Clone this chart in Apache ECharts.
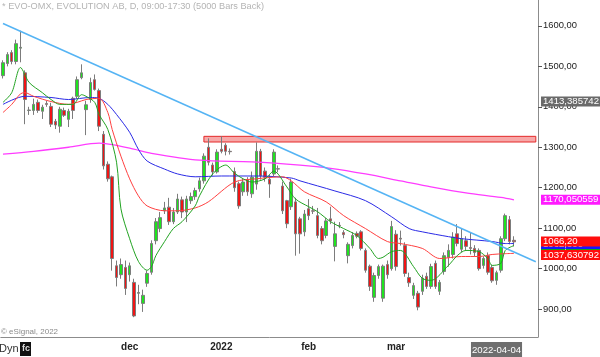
<!DOCTYPE html>
<html><head><meta charset="utf-8">
<script src="https://cdn.jsdelivr.net/npm/echarts@6/dist/echarts.min.js"></script>
<style>html,body{margin:0;padding:0;background:#fff}#c{width:600px;height:357px}</style>
</head><body><div id="c"></div>
<script>
// Daily bars (Oct 2021 – Apr 2022)
const opens  = [1477,1507,1534,1512,1545,1484,1391,1391,1411,1389,1408,1401,1364,1352,1391,1369,1421,1426,1472,1393,
                1418,1467,1440,1332,1258,1227,1007,985,1003,985,966,939,914,964,991,1069,1099,1143,1152,1116,
                1140,1170,1140,1168,1178,1197,1217,1300,1256,1239,1295,1305,1290,1240,1210,1190,1220,1185,1209,1290,
                1241,1221,1234,1246,1204,1168,1153,1165,1123,1091,1148,1143,1131,1099,1082,1123,1055,1107,1089,1032,
                1057,1087,1091,1045,1006,929,983,927,1010,1000,1085,1075,1057,978,934,939,944,981,956,1013,
                944,993,1028,1035,1086,1048,1069,1052,1050,1045,1008,1032,1003,971,996,1074,1121,1070];
const closes = [1509,1529,1512,1556,1547,1418,1392,1406,1391,1399,1406,1357,1355,1394,1379,1389,1391,1467,1484,1405,
                1460,1443,1352,1254,1222,1025,978,1010,951,1007,883,941,934,988,1062,1116,1126,1150,1116,1140,
                1172,1140,1172,1178,1193,1217,1278,1263,1239,1288,1290,1290,1289,1200,1155,1214,1190,1226,1290,1229,
                1226,1209,1288,1247,1143,1111,1214,1086,1086,1135,1131,1142,1082,1069,1118,1118,1086,1106,1084,1060,
                1082,1080,1050,996,956,983,1005,1006,985,1104,1005,1073,988,965,958,905,976,956,1005,956,
                966,1032,1045,1078,1062,1074,1055,1050,1040,1000,1025,991,970,990,1074,1131,1067,1066.2];
const lows   = [1470,1500,1505,1505,1510,1357,1380,1380,1385,1370,1400,1350,1345,1336,1375,1350,1370,1420,1468,1330,
                1410,1440,1340,1245,1215,995,956,975,935,968,880,912,893,955,985,1060,1090,1135,1108,1110,
                1135,1125,1115,1160,1170,1190,1210,1255,1230,1235,1285,1280,1282,1190,1148,1180,1180,1175,1195,1220,
                1215,1175,1228,1238,1135,1100,1145,1032,1037,1080,1120,1135,1075,1060,1075,1110,1018,1100,1075,1013,
                1050,1075,1045,990,945,918,975,918,975,995,995,1057,980,955,925,897,935,950,950,950,
                935,985,1005,1025,1055,1040,1045,1035,1030,995,1000,985,965,960,990,1068,1060,1055];
const highs  = [1515,1535,1540,1566,1588,1490,1400,1420,1418,1405,1415,1410,1370,1400,1398,1395,1425,1475,1505,1415,
                1472,1480,1445,1340,1265,1230,1020,1025,1020,1015,975,960,948,995,1070,1125,1140,1165,1175,1150,
                1185,1178,1180,1188,1200,1225,1285,1322,1262,1295,1327,1310,1297,1250,1215,1222,1226,1240,1312,1296,
                1250,1232,1295,1255,1215,1170,1222,1175,1128,1145,1172,1155,1150,1105,1125,1153,1116,1115,1095,1065,
                1090,1092,1095,1050,1010,990,1010,1010,1020,1118,1095,1094,1065,990,965,945,985,990,1012,1020,
                972,1040,1060,1090,1110,1100,1080,1090,1058,1050,1030,1040,1010,995,1080,1136,1130,1080];
const slotCount = 123;              // bar slots on the time axis (incl. empty right margin)
const tickIndex = [29, 50, 70, 90];
const tickText  = ['dec', '2022', 'feb', 'mar'];
const cursorIndex = 113, cursorText = '2022-04-04';
const yTicks = [900, 1000, 1100, 1200, 1300, 1400, 1500, 1600];

// Moving averages: [bar index, value]
const maGreen = [[0,1411],[2,1435],[4,1497],[6,1460],[9,1435],[11,1418],[13,1406],[16,1406],[18,1430],[19,1426],[21,1411],[22,1381],
  [24,1344],[26,1263],[27,1148],[29,1074],[31,1018],[33,996],[34,1005],[35,1032],[37,1067],[39,1099],[41,1116],[44,1155],[45,1180],
  [48,1234],[51,1256],[53,1236],[55,1222],[57,1214],[60,1222],[62,1241],[65,1202],[67,1172],[70,1153],[72,1141],[75,1116],[78,1099],
  [81,1082],[84,1050],[86,1025],[87,1028],[89,1042],[91,1045],[94,1005],[96,976],[98,971],[102,1008],[104,1032],[106,1045],[109,1042],
  [111,1025],[112,1008],[114,1013],[115,1045],[117,1057]];
const maRed = [[0,1386],[2,1406],[4,1432],[5,1435],[7,1426],[11,1413],[15,1406],[17,1411],[19,1418],[22,1421],[24,1386],[25,1344],
  [27,1278],[29,1222],[31,1180],[33,1155],[37,1143],[40,1143],[44,1150],[47,1165],[53,1214],[58,1222],[64,1227],[66,1217],[69,1190],
  [74,1165],[78,1131],[83,1099],[88,1067],[91,1062],[96,1050],[100,1025],[105,1030],[109,1030],[112,1035],[115,1037],[117,1037.63]];
const maBlue = [[0,1406],[5,1426],[11,1423],[15,1418],[20,1423],[22,1421],[24,1406],[26,1381],[29,1337],[31,1295],[33,1266],[37,1246],
  [40,1234],[44,1227],[50,1229],[58,1229],[66,1224],[68,1217],[76,1192],[83,1168],[89,1128],[93,1099],[96,1091],[102,1079],[105,1074],
  [112,1067],[115,1062],[117,1062]];
const maMagenta = [[0,1283],[7,1290],[15,1300],[22,1310],[29,1298],[34,1285],[45,1268],[57,1264],[68,1256],[75,1248],[83,1234],
  [91,1217],[98,1202],[106,1187],[114,1176],[117,1170.05]];

const trendLine = [[0, 1606], [122, 1017]];
const zone = {from: 46, to: 122, low: 1313, high: 1327};
// right-edge price tags: value shown, and the level where the (de-overlapped) tag sits
const priceTags = [
  {text: '1413,385742', at: 1413.39, bg: '#6a6a6a'},
  {text: '1170,050559', at: 1170.05, bg: '#ff1aff'},
  {text: '1054,600', at: 1054.6, bg: '#16a016'},
  {text: '1062,000', at: 1061.0, bg: '#1515ff'},
  {text: '1037,630792', at: 1033.7, bg: '#ff0d0d'},
  {text: '1066,20', at: 1067.0, bg: '#ff0d0d'}
];

const FONT = 'Arial, "Liberation Sans", sans-serif';
const categories = [];
for (let i = 0; i < slotCount; i++) categories.push(String(i));
const candles = opens.map((o, i) => [o, closes[i], lows[i], highs[i]]);

const tagItems = priceTags.map(t => ({
  yAxis: t.at,
  lineStyle: {color: 'rgba(0,0,0,0)', width: 0},
  label: {show: true, position: 'end', distance: 3, formatter: t.text, color: '#fff', width: 56, align: 'left',
          backgroundColor: t.bg, padding: [1, 2, 0, 2], fontSize: 9.6, fontFamily: FONT, lineHeight: 9}
}));

const chart = echarts.init(document.getElementById('c'), null, {renderer: 'canvas'});
chart.setOption({
  animation: false,
  backgroundColor: '#fff',
  grid: {left: 0, right: 62, top: 0, bottom: 18, containLabel: false},
  xAxis: {
    type: 'category', data: categories, boundaryGap: true,
    axisLine: {lineStyle: {color: '#8c8c8c', width: 1}},
    axisTick: {alignWithLabel: true, length: 3, lineStyle: {color: '#555'},
               interval: (i) => tickIndex.includes(i) || i === cursorIndex},
    axisLabel: {
      interval: 0, margin: 5, fontSize: 10, fontWeight: 'bold', color: '#222', fontFamily: FONT,
      formatter: (v, i) => {
        if (i === cursorIndex) return '{cur|' + cursorText + '}';
        const k = tickIndex.indexOf(i);
        return k >= 0 ? tickText[k] : '';
      },
      rich: {cur: {backgroundColor: '#6e6e6e', color: '#fff', fontWeight: 'normal', fontSize: 9.6,
                   padding: [3, 1, 2, 1], fontFamily: FONT}}
    },
    splitLine: {show: false}
  },
  yAxis: {
    type: 'value', position: 'right', min: 831, max: 1664, scale: true,
    axisLine: {show: true, lineStyle: {color: '#8c8c8c'}},
    axisTick: {show: true, length: 4, customValues: yTicks, lineStyle: {color: '#555'}},
    axisLabel: {customValues: yTicks, margin: 5, fontSize: 9.4, color: '#222', fontFamily: FONT,
                formatter: v => v.toFixed(2).replace('.', ',')},
    splitLine: {show: false}
  },
  series: [
    {
      type: 'candlestick', data: candles, barWidth: 3, z: 2, clip: false,
      itemStyle: {color: '#1ee41e', color0: '#f01414', borderColor: '#7c7c7c', borderColor0: '#7c7c7c', borderWidth: 1},
      markArea: {
        silent: true,
        itemStyle: {color: 'rgba(242,110,110,0.6)', borderColor: '#e42a2a', borderWidth: 1},
        data: [[{xAxis: String(zone.from), yAxis: zone.high}, {xAxis: String(zone.to), yAxis: zone.low}]]
      },
      markLine: {
        silent: true, symbol: 'none', animation: false,
        data: [
          [{coord: [String(trendLine[0][0]), trendLine[0][1]], lineStyle: {color: '#55b4f4', width: 1.5, type: 'solid'}, label: {show: false}},
           {coord: [String(trendLine[1][0]), trendLine[1][1]]}]
        ].concat(tagItems)
      }
    },
    {type: 'line', data: maMagenta, smooth: 0.3, showSymbol: false, z: 3, lineStyle: {color: '#ff3cff', width: 1.3}},
    {type: 'line', data: maBlue, smooth: 0.3, showSymbol: false, z: 3, lineStyle: {color: '#2a2ae6', width: 1}},
    {type: 'line', data: maRed, smooth: 0.3, showSymbol: false, z: 3, lineStyle: {color: '#ff4040', width: 1}},
    {type: 'line', data: maGreen, smooth: 0.3, showSymbol: false, z: 3, lineStyle: {color: '#22a322', width: 1}}
  ],
  graphic: [
    {type: 'text', left: 2, top: 2, z: 10, style: {text: '* EVO-OMX, EVOLUTION AB, D, 09:00-17:30 (5000 Bars Back)',
      fill: '#b4b4b4', font: '9.2px ' + FONT}},
    {type: 'text', left: 1, top: 328, z: 10, style: {text: '\u00a9 eSignal, 2022', fill: '#8a8a8a', font: '8px ' + FONT}},
    {type: 'text', left: -1, top: 343, z: 10, style: {text: 'Dyn', fill: '#333', font: '11px ' + FONT}},
    {type: 'rect', left: 20, top: 342, z: 10, shape: {width: 11, height: 14}, style: {fill: '#111'}},
    {type: 'text', left: 22, top: 344, z: 11, style: {text: 'fc', fill: '#ddd', font: 'bold 9px ' + FONT}}
  ]
});
</script></body></html>
